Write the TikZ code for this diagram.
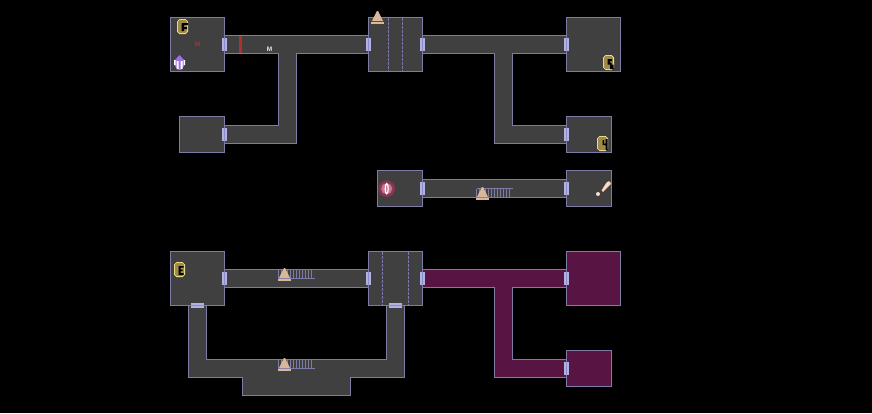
\documentclass[tikz,border=0pt]{standalone}
\usepackage{xcolor}
\usepackage{fontspec}
\setsansfont{Liberation Sans}
\usetikzlibrary{positioning}
\definecolor{roomgray}{HTML}{404040}
\definecolor{wallblue}{HTML}{7E7CA6}
\definecolor{doorblue}{HTML}{B2B2E2}
\definecolor{doorline}{HTML}{8C8CC8}
\definecolor{plumroom}{HTML}{581544}
\definecolor{conetan}{HTML}{D8B898}
\definecolor{coinlight}{HTML}{F2E68C}
\definecolor{coingold}{HTML}{A08A48}
\definecolor{clubskin}{HTML}{FFD8C0}
\definecolor{tokenrim}{HTML}{8C3454}
\definecolor{tokenface}{HTML}{C87890}
\definecolor{crystal}{HTML}{A070E0}
\definecolor{redbar}{HTML}{B03030}
\tikzset{
  room/.style={draw=wallblue, line width=1.1pt, fill=roomgray},
  plum/.style={draw=wallblue, line width=1.1pt, fill=plumroom},
  midline/.style={draw=wallblue, line width=1.1pt, dash pattern=on 2.6pt off 1.4pt},
  gridline/.style={draw=wallblue, line width=0.9pt},
  tinytext/.style={inner sep=0pt, font=\fontsize{6.5}{6.5}\selectfont\sffamily\bfseries}
}
% door across a wall, centred on the given point
\newcommand{\doorV}[2]{\fill[doorblue] (#1-2.5,#2-6.5) rectangle (#1+2.5,#2+6.5);
  \fill[doorline] (#1-0.4,#2-6.5) rectangle (#1+0.4,#2+6.5);}
\newcommand{\doorH}[2]{\fill[doorblue] (#1-6.5,#2-2.5) rectangle (#1+6.5,#2+2.5);
  \fill[doorline] (#1-6.5,#2-0.4) rectangle (#1+6.5,#2+0.4);}
% cone, x of the tip and y of the base
\newcommand{\cone}[2]{\fill[conetan] (#1-6.5,#2-2.3) rectangle (#1+6.5,#2);
  \fill[conetan] (#1-5.5,#2-3) -- (#1-0.6,#2-13) -- (#1+0.6,#2-13) -- (#1+5.5,#2-3) -- cycle;}
% coin with a black glyph
\newcommand{\coin}[3]{\begin{scope}[shift={(#1,#2)}]
  \fill[coinlight] (-3,-7.5) -- (3,-7.5) -- (5.5,-5) -- (5.5,5) -- (3,7.5) -- (-3,7.5) -- (-5.5,5) -- (-5.5,-5) -- cycle;
  \fill[coingold] (-2.7,-6.7) -- (2.7,-6.7) -- (4.7,-4.7) -- (4.7,4.7) -- (2.7,6.7) -- (-2.7,6.7) -- (-4.7,4.7) -- (-4.7,-4.7) -- cycle;
  \fill[black] #3;
\end{scope}}

\begin{document}
\begin{tikzpicture}[x=1pt, y=-1pt]
  \useasboundingbox (0,0) rectangle (872,413);
  \fill[black] (0,0) rectangle (872,413);

  % top left wing
  \draw[room] (224.5,35.5) -- (368.5,35.5) -- (368.5,53.5) -- (296.5,53.5) -- (296.5,143.5) -- (224.5,143.5)
    -- (224.5,125.5) -- (278.5,125.5) -- (278.5,53.5) -- (224.5,53.5) -- cycle;
  \draw[room] (170.5,17.5) rectangle (224.5,71.5);
  \draw[room] (179.5,116.5) rectangle (224.5,152.5);
  \fill[redbar] (239,36) rectangle (242,53);

  % top right wing
  \draw[room] (422.5,35.5) -- (566.5,35.5) -- (566.5,53.5) -- (512.5,53.5) -- (512.5,125.5) -- (566.5,125.5)
    -- (566.5,143.5) -- (494.5,143.5) -- (494.5,53.5) -- (422.5,53.5) -- cycle;
  \draw[room] (368.5,17.5) rectangle (422.5,71.5);
  \draw[midline] (388.5,18) -- (388.5,71);
  \draw[midline] (402.5,18) -- (402.5,71);
  \draw[room] (566.5,17.5) rectangle (620.5,71.5);
  \draw[room] (566.5,116.5) rectangle (611.5,152.5);

  % middle row
  \draw[room] (422.5,179.5) rectangle (566.5,197.5);
  \draw[room] (377.5,170.5) rectangle (422.5,206.5);
  \draw[room] (566.5,170.5) rectangle (611.5,206.5);
  \draw[gridline] (476.5,188.5) -- (513,188.5);
  \foreach \x in {0,...,11} \draw[gridline] (476.5+3*\x,188.5) -- (476.5+3*\x,197);

  % bottom left loop
  \draw[room] (224.5,269.5) rectangle (368.5,287.5);
  \draw[room] (188.5,305.5) -- (206.5,305.5) -- (206.5,359.5) -- (386.5,359.5) -- (386.5,305.5) -- (404.5,305.5)
    -- (404.5,377.5) -- (350.5,377.5) -- (350.5,395.5) -- (242.5,395.5) -- (242.5,377.5) -- (188.5,377.5) -- cycle;
  \draw[room] (170.5,251.5) rectangle (224.5,305.5);
  \draw[room] (368.5,251.5) rectangle (422.5,305.5);
  \draw[midline] (382.5,252) -- (382.5,305);
  \draw[midline] (408.5,252) -- (408.5,305);
  \foreach \y in {269.5,359.5} {
    \draw[gridline] (278.5,\y+9) -- (315,\y+9);
    \foreach \x in {0,...,11} \draw[gridline] (278.5+3*\x,\y) -- (278.5+3*\x,\y+9);
  }

  % bottom right wing
  \draw[plum] (422.5,269.5) -- (566.5,269.5) -- (566.5,287.5) -- (512.5,287.5) -- (512.5,359.5) -- (566.5,359.5)
    -- (566.5,377.5) -- (494.5,377.5) -- (494.5,287.5) -- (422.5,287.5) -- cycle;
  \draw[plum] (566.5,251.5) rectangle (620.5,305.5);
  \draw[plum] (566.5,350.5) rectangle (611.5,386.5);

  % doors
  \foreach \x/\y in {224.5/44.5,368.5/44.5,422.5/44.5,566.5/44.5,224.5/134.5,566.5/134.5,
    422.5/188.5,566.5/188.5,224.5/278.5,368.5/278.5,422.5/278.5,566.5/278.5,566.5/368.5} {
    \doorV{\x}{\y}
  }
  \doorH{197.5}{305.5}
  \doorH{395.5}{305.5}

  % cones
  \cone{377.5}{24}
  \cone{482.5}{200}
  \cone{284.5}{281}
  \cone{284.5}{371}

  % coins
  \coin{182.5}{26.5}{(-1,-3.5) rectangle (5.5,-1.5) (-1,-3.5) rectangle (1.5,4.5) (-1,0.5) rectangle (4.5,2.5)}
  \coin{608.5}{62.5}{(-1,-3.5) rectangle (3.5,-1.5) (-1,-3.5) rectangle (1.5,2) (-1,0) rectangle (3,2) (1.5,2) rectangle (5.2,6.5)}
  \coin{602.5}{143.5}{(0,-3.5) rectangle (1.5,1.5) (0,0) rectangle (3,1.5) (3,-4.5) rectangle (5.2,6.5)}
  \coin{179.5}{269.5}{(-1,-3.5) rectangle (4,-1.8) (-1,-3.5) rectangle (1,5.5) (-1,0) rectangle (3,1.7) (-1,3.5) rectangle (4,5.5)}

  % crystal
  \fill[crystal] (179.5,55) -- (184,60) -- (184,66) -- (180.5,70) -- (178.5,70) -- (175,66) -- (175,60) -- cycle;
  \fill[white] (174,60) rectangle (175.5,65) (183.5,60) rectangle (185,65);
  \fill[white] (176.5,61) rectangle (178.5,69) (180.5,61) rectangle (182.5,69);

  % round token
  \fill[tokenrim] (386.7,188.7) circle (8.3);
  \fill[tokenface] (386.7,188.7) circle (5.6);
  \draw[white, line width=1.2pt] (386.7,188.7) ellipse (1.5 and 5);

  % club
  \fill[clubskin] (609,181.2) to[bend left=40] (610.8,184) -- (603,192) -- (601.5,190.5) -- (606.5,182.5) -- cycle;
  \fill[clubskin] (598,194) circle (2);

  % labels
  \node[tinytext, text=redbar] (redmark) at (197.5,44.5) {M};
  \node[tinytext, text=white!85!gray] (whitemark) at (269.5,49.5) {M};
\end{tikzpicture}
\end{document}
